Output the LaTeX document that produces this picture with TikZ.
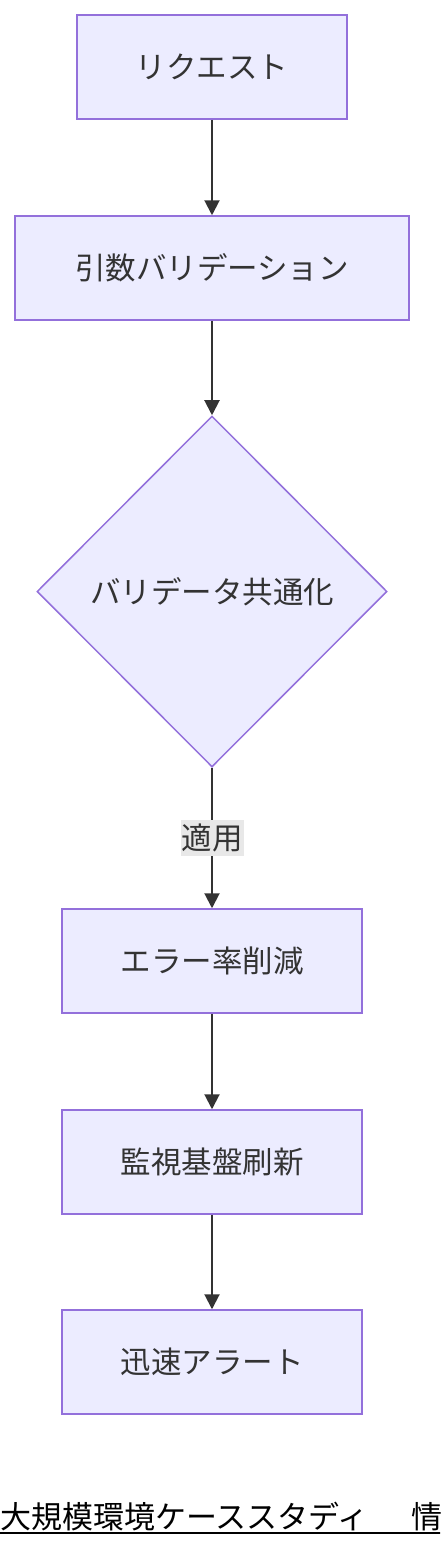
\documentclass[tikz,border=0pt]{standalone}
\usepackage{fontspec}
\setmainfont{Noto Sans CJK JP}
\usetikzlibrary{shapes.geometric,arrows.meta}
\definecolor{nodefill}{HTML}{ECECFF}
\definecolor{nodeline}{HTML}{9370DB}
\definecolor{ink}{HTML}{333333}
\definecolor{lblbg}{HTML}{E8E8E8}
\begin{document}
\begin{tikzpicture}[x=1pt,y=-1pt,
  box/.style={draw=nodeline,fill=nodefill,line width=1.5pt,minimum height=104pt,inner sep=0pt,text=ink,font=\fontsize{30.5}{34}\selectfont},
  dia/.style={draw=nodeline,fill=nodefill,line width=1.5pt,diamond,minimum width=350pt,minimum height=351pt,inner sep=0pt,text=ink,font=\fontsize{30.5}{34}\selectfont},
  conn/.style={draw=ink,line width=2pt,-{Triangle[length=15pt,width=15pt]}},
  lbl/.style={fill=lblbg,text=ink,inner xsep=1pt,inner ysep=4pt,font=\fontsize{30.5}{34}\selectfont}]
\useasboundingbox (0,0) rectangle (440,1548);
\node[box,minimum width=270pt] (a) at (212,67) {リクエスト};
\node[box,minimum width=394pt] (b) at (212,268) {引数バリデーション};
\node[dia] (c) at (212,591.5) {バリデータ共通化};
\node[box,minimum width=300pt] (d) at (212,961) {エラー率削減};
\node[box,minimum width=300pt] (e) at (212,1162) {監視基盤刷新};
\node[box,minimum width=300pt] (f) at (212,1362) {迅速アラート};
\draw[conn] (a) -- (b);
\draw[conn] (b) -- (c);
\draw[conn] (c) -- node[lbl] (l) {適用} (d);
\draw[conn] (d) -- (e);
\draw[conn] (e) -- (f);
\begin{scope}
\clip (0,0) rectangle (440,1548);
\node[anchor=base west,inner sep=0pt,font=\fontsize{31}{35}\selectfont,text=black] (t) at (0,1528) {大規模環境ケーススタディ\hspace{43pt}情};
\draw[black,line width=1.5pt] (0,1533) -- (460,1533);
\end{scope}
\end{tikzpicture}
\end{document}
